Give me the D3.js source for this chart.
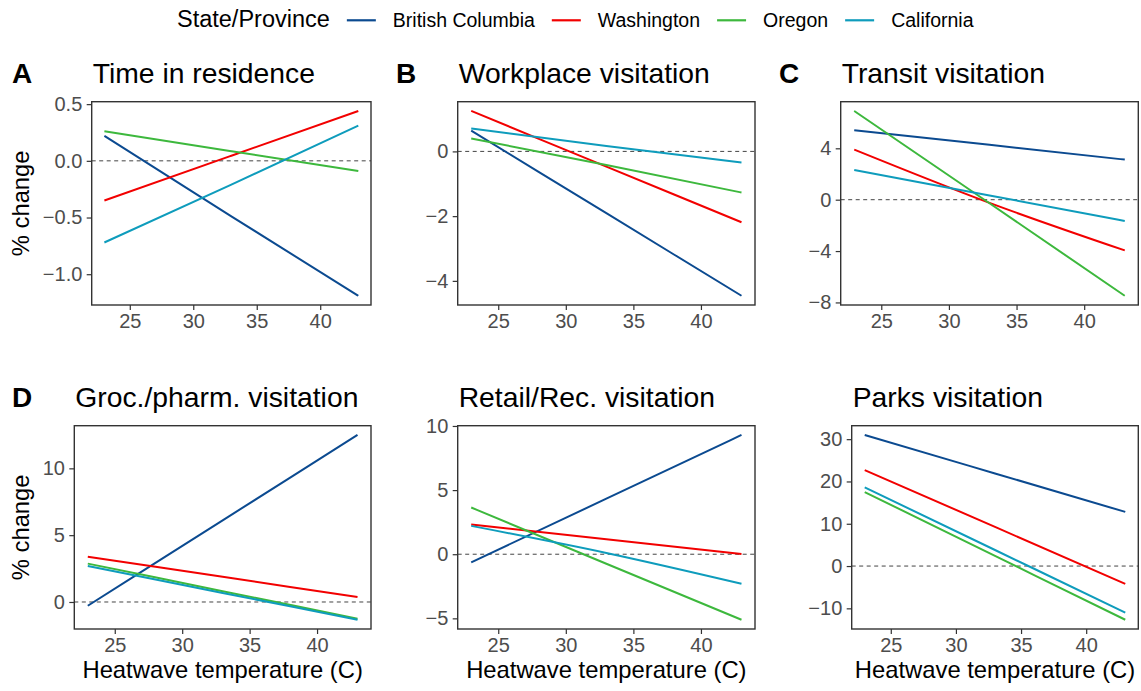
<!DOCTYPE html>
<html>
<head>
<meta charset="utf-8">
<script src="https://cdn.jsdelivr.net/npm/d3@7"></script>
<style>
  body { margin: 0; background: #fff; }
  text { font-family: "Liberation Sans", Arial, sans-serif; }
</style>
</head>
<body>
<script>
// data: fitted % change at 23, 33 and 43 C
const temps = [23, 33, 43];
const states = ["British Columbia", "Washington", "Oregon", "California"];
const stateColors = ["#0B4A90", "#F20000", "#3DB83D", "#0E9CBC"];
const xTicks = [25, 30, 35, 40];

const titles = ["Time in residence", "Workplace visitation", "Transit visitation",
                "Groc./pharm. visitation", "Retail/Rec. visitation", "Parks visitation"];
const tags = ["A", "B", "C", "D", "", ""];

// one row per state (BC, WA, OR, CA)
const residence = [[0.22, -0.49, -1.19], [-0.35, 0.045, 0.44], [0.26, 0.085, -0.09], [-0.72, -0.21, 0.31]];
const workplace = [[0.64, -1.91, -4.46], [1.25, -0.47, -2.19], [0.40, -0.42, -1.27], [0.71, 0.17, -0.34]];
const transit   = [[5.41, 4.27, 3.12], [3.90, -0.25, -3.95], [6.91, -0.28, -7.48], [2.31, 0.33, -1.66]];
const grocery   = [[-0.28, 6.11, 12.5], [3.39, 1.88, 0.37], [2.87, 0.81, -1.25], [2.69, 0.68, -1.33]];
const retail    = [[-0.63, 4.33, 9.3], [2.31, 1.16, 0.02], [3.64, -0.74, -5.11], [2.21, 0.10, -2.30]];
const parks     = [[31.0, 21.9, 12.8], [22.7, 9.25, -4.2], [17.5, 2.4, -12.7], [18.6, 3.8, -11.0]];
const allValues = [residence, workplace, transit, grocery, retail, parks];

const yTicks = [[0.5, 0, -0.5, -1.0], [0, -2, -4], [4, 0, -4, -8], [0, 5, 10], [10, 5, 0, -5], [30, 20, 10, 0, -10]];
const yFormats = [".1f", "d", "d", "d", "d", "d"];

// panel boxes (each plot has its own y label width, so lefts differ)
const layout = [
  {left: 91.7,  right: 371,    top: 101.7, bottom: 305},
  {left: 457.7, right: 755,    top: 101.7, bottom: 305},
  {left: 840.7, right: 1138.3, top: 101.7, bottom: 305},
  {left: 74.3,  right: 371,    top: 425.7, bottom: 629},
  {left: 457.7, right: 755,    top: 425.7, bottom: 629},
  {left: 851.7, right: 1138.3, top: 425.7, bottom: 629}
];

const svg = d3.select("body").append("svg")
  .attr("width", 1141)
  .attr("height", 691);

const tickColor = "#4D4D4D";

allValues.forEach((vals, i) => {
  const L = layout[i];
  const g = svg.append("g");

  // ggplot style 5% expansion
  const xr = d3.extent(temps), xpad = (xr[1] - xr[0]) * 0.05;
  const x = d3.scaleLinear().domain([xr[0] - xpad, xr[1] + xpad]).range([L.left, L.right]);
  const yr = d3.extent(vals.flat()), ypad = (yr[1] - yr[0]) * 0.05;
  const y = d3.scaleLinear().domain([yr[0] - ypad, yr[1] + ypad]).range([L.bottom, L.top]);

  // zero reference line
  g.append("line")
    .attr("x1", L.left).attr("x2", L.right)
    .attr("y1", y(0)).attr("y2", y(0))
    .attr("stroke", "#444")
    .attr("stroke-width", 1)
    .attr("stroke-dasharray", "4,3.5");

  const line = d3.line()
    .x((d, j) => x(temps[j]))
    .y(d => y(d))
    .curve(d3.curveMonotoneX);

  g.selectAll("path.series")
    .data(vals)
    .join("path")
    .attr("class", "series")
    .attr("d", line)
    .attr("fill", "none")
    .attr("stroke", (d, k) => stateColors[k])
    .attr("stroke-width", 2);

  // panel border
  g.append("rect")
    .attr("x", L.left).attr("y", L.top)
    .attr("width", L.right - L.left).attr("height", L.bottom - L.top)
    .attr("fill", "none")
    .attr("stroke", "#333")
    .attr("stroke-width", 1.4);

  const xAxis = g.append("g")
    .attr("transform", `translate(0, ${L.bottom})`)
    .call(d3.axisBottom(x).tickValues(xTicks).tickSize(5).tickPadding(3.5));
  const yAxis = g.append("g")
    .attr("transform", `translate(${L.left}, 0)`)
    .call(d3.axisLeft(y).tickValues(yTicks[i]).tickFormat(d3.format(yFormats[i])).tickSize(5).tickPadding(4.4));

  [xAxis, yAxis].forEach(a => {
    a.select(".domain").remove();
    a.selectAll(".tick line").attr("stroke", "#333").attr("stroke-width", 1.2);
    a.selectAll(".tick text")
      .style("font-size", "20px")
      .style("font-family", "'Liberation Sans', Arial, sans-serif")
      .attr("fill", tickColor);
  });

  // title and tag
  g.append("text")
    .attr("x", L.left + 1)
    .attr("y", L.top - 18.5)
    .style("font-size", "28.3px")
    .text(titles[i]);
  if (tags[i]) {
    const col = i % 3;
    g.append("text")
      .attr("x", [12, 396, 779][col])
      .attr("y", L.top - 18.5)
      .style("font-size", "28px")
      .style("font-weight", "bold")
      .text(tags[i]);
  }

  // axis titles
  if (i % 3 === 0) {
    g.append("text")
      .attr("transform", `translate(28.5, ${(L.top + L.bottom) / 2}) rotate(-90)`)
      .attr("text-anchor", "middle")
      .style("font-size", "23.8px")
      .text("% change");
  }
  if (i >= 3) {
    g.append("text")
      .attr("x", (L.left + L.right) / 2)
      .attr("y", L.bottom + 49)
      .attr("text-anchor", "middle")
      .style("font-size", "23.8px")
      .text("Heatwave temperature (C)");
  }
});

// legend along the top
const legend = svg.append("g");
let lx = 177;
const legTitle = legend.append("text")
  .attr("x", lx).attr("y", 27.3)
  .style("font-size", "23.5px")
  .text("State/Province");
lx += legTitle.node().getComputedTextLength() + 17;

states.forEach((s, k) => {
  legend.append("line")
    .attr("x1", lx).attr("x2", lx + 29)
    .attr("y1", 20.3).attr("y2", 20.3)
    .attr("stroke", stateColors[k])
    .attr("stroke-width", 2.2);
  lx += 29 + 17;
  const t = legend.append("text")
    .attr("x", lx).attr("y", 27.3)
    .style("font-size", "19.5px")
    .text(s);
  lx += t.node().getComputedTextLength() + 17;
});
</script>
</body>
</html>
